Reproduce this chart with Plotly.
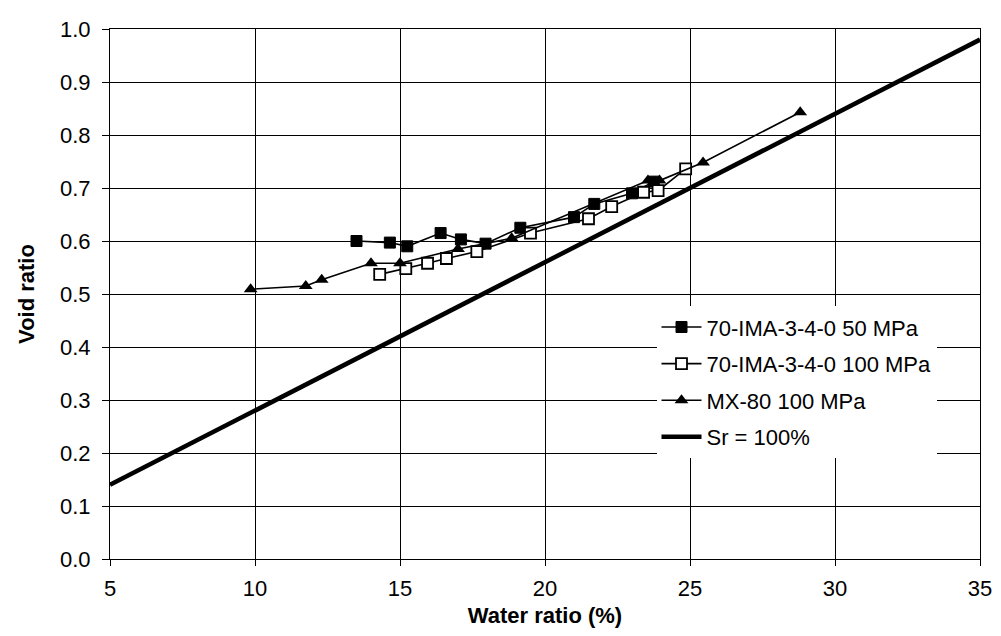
import plotly.graph_objects as go

# Data
w_50 = [13.5, 14.65, 15.25, 16.4, 17.1, 17.95, 19.15, 21.0, 21.7, 23.0, 23.75]
e_50 = [0.600, 0.597, 0.590, 0.615, 0.603, 0.595, 0.625, 0.645, 0.670, 0.690, 0.712]

w_100 = [14.3, 15.2, 15.95, 16.6, 17.65, 19.5, 21.5, 22.3, 23.4, 23.9, 24.85]
e_100 = [0.537, 0.548, 0.558, 0.567, 0.580, 0.615, 0.642, 0.665, 0.692, 0.695, 0.736]

w_mx = [9.85, 11.75, 12.3, 14.0, 15.0, 17.0, 18.85, 23.55, 23.95, 25.45, 28.8]
e_mx = [0.509, 0.515, 0.527, 0.558, 0.558, 0.585, 0.605, 0.714, 0.714, 0.748, 0.843]

w_sr = [5, 35]
e_sr = [0.14, 0.98]

x_ticks = [5, 10, 15, 20, 25, 30, 35]
y_ticks = [0.0, 0.1, 0.2, 0.3, 0.4, 0.5, 0.6, 0.7, 0.8, 0.9, 1.0]

FONT = "Liberation Sans, Arial, sans-serif"

fig = go.Figure()
fig.add_trace(go.Scatter(
    x=w_50, y=e_50, mode="lines+markers", name="70-IMA-3-4-0 50 MPa",
    legendgroup="a",
    line=dict(color="black", width=1.6),
    marker=dict(symbol="square", size=11, color="black",
                line=dict(color="black", width=1))))
fig.add_trace(go.Scatter(
    x=w_100, y=e_100, mode="lines+markers", name="70-IMA-3-4-0 100 MPa",
    legendgroup="b",
    line=dict(color="black", width=1.6),
    marker=dict(symbol="square", size=11, color="white",
                line=dict(color="black", width=1.8))))
fig.add_trace(go.Scatter(
    x=w_mx, y=e_mx, mode="lines+markers", name="MX-80 100 MPa",
    legendgroup="c",
    line=dict(color="black", width=1.6),
    marker=dict(symbol="triangle-up", size=12, color="black")))
fig.add_trace(go.Scatter(
    x=w_sr, y=e_sr, mode="lines", name="Sr = 100%",
    legendgroup="d",
    line=dict(color="black", width=4.5)))

fig.update_layout(
    width=1001, height=636,
    paper_bgcolor="white", plot_bgcolor="white",
    margin=dict(l=102, r=29, t=21, b=85),
    font=dict(family=FONT, size=22, color="black"),
    showlegend=True,
    legend=dict(
        x=0.95, xanchor="right", y=0.477, yanchor="top",
        bgcolor="white", borderwidth=0,
        font=dict(family=FONT, size=22, color="black"),
        traceorder="grouped", tracegroupgap=5,
        itemwidth=40,
    ),
    xaxis=dict(
        range=[5, 35], tickvals=x_ticks, ticktext=[str(v) for v in x_ticks],
        showgrid=True, gridcolor="black", gridwidth=1,
        showline=True, linecolor="black", linewidth=1, mirror=True,
        ticks="outside", ticklen=6, tickcolor="black",
        ticklabelstandoff=4, automargin=False,
        zeroline=False,
        tickfont=dict(size=22),
        title=dict(text="<b>Water ratio (%)</b>", font=dict(size=22), standoff=7),
    ),
    yaxis=dict(
        range=[0, 1.0], tickvals=y_ticks, ticktext=[f"{v:.1f}" for v in y_ticks],
        showgrid=True, gridcolor="black", gridwidth=1,
        showline=True, linecolor="black", linewidth=1, mirror=True,
        ticks="outside", ticklen=7, tickcolor="black",
        ticklabelstandoff=7, automargin=False,
        zeroline=False,
        tickfont=dict(size=22),
        title=dict(text="<b>Void ratio</b>", font=dict(size=22), standoff=19),
    ),
)

fig.write_html("out.html")
